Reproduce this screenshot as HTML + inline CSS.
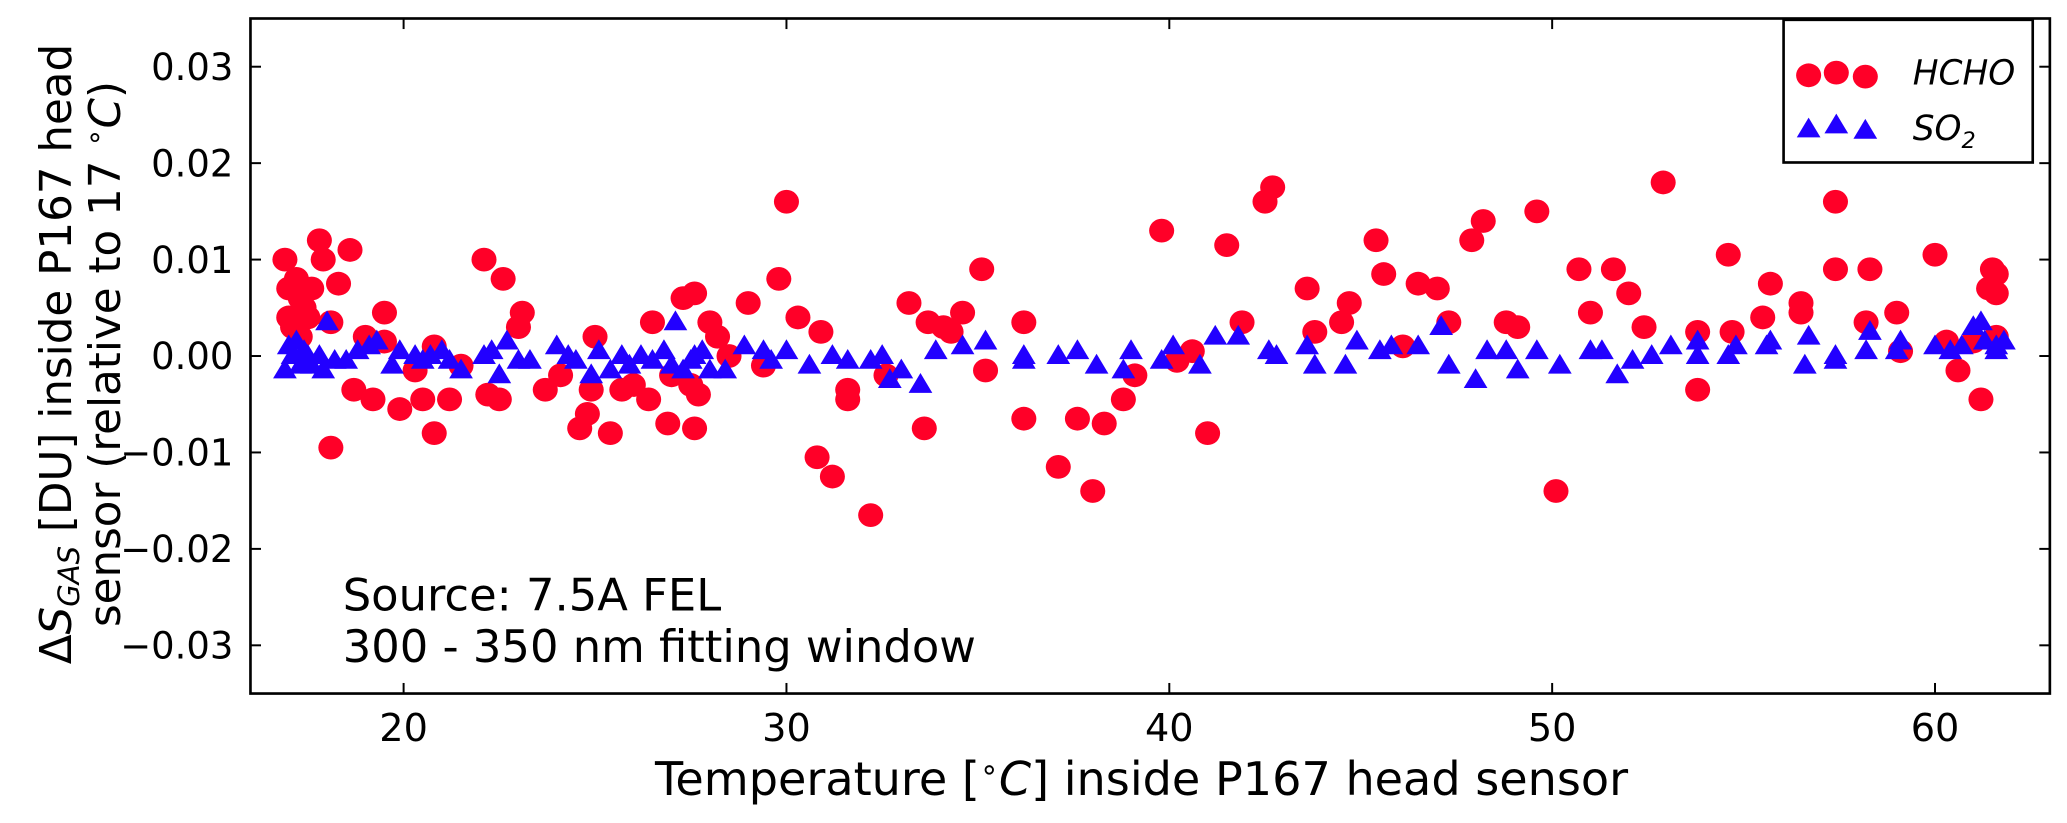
<!DOCTYPE html>
<html><head><meta charset="utf-8"><style>
html,body{margin:0;padding:0;background:#fff;}
svg{display:block;font-family:"DejaVu Sans","Liberation Sans",sans-serif;}
</style></head><body>
<svg id="chart" width="2067" height="823" viewBox="0 0 1568 623" preserveAspectRatio="none" xmlns="http://www.w3.org/2000/svg">
<g id="marks"></g>
<rect x="190" y="14" width="1365" height="511" fill="none" stroke="#000" stroke-width="2"/>
<g id="ticks"></g>
<text x="866" y="602" font-size="35" text-anchor="middle">Temperature [<tspan font-size="23" dy="-12">∘</tspan><tspan dy="12" font-style="italic">C</tspan>] inside P167 head sensor</text>
<text transform="translate(54,268) rotate(-90)" font-size="33" text-anchor="middle">Δ<tspan font-style="italic">S</tspan><tspan font-size="22" font-style="italic" dy="6">GAS</tspan><tspan dy="-6"> [DU] inside P167 head</tspan></text>
<text transform="translate(91,268) rotate(-90)" font-size="33" text-anchor="middle">sensor (relative to 17 <tspan font-size="22" dy="-12">∘</tspan><tspan dy="12" font-style="italic">C</tspan>)</text>
<text x="260" y="462" font-size="34">Source: 7.5A FEL</text>
<text x="260" y="501" font-size="34">300 - 350 nm fitting window</text>
<g>
<rect x="1353" y="15" width="189" height="108" fill="#fff" stroke="#000" stroke-width="2"/>
<ellipse cx="1372" cy="57" rx="9.5" ry="9" fill="#ff0028"/><ellipse cx="1393" cy="55" rx="9.5" ry="9" fill="#ff0028"/><ellipse cx="1415" cy="58" rx="9.5" ry="9" fill="#ff0028"/>
<text x="1451" y="64" font-size="26" font-style="italic">HCHO</text>
<polygon points="1372,89 1381,104 1363,104" fill="#2200ff"/><polygon points="1393,86 1402,101 1384,101" fill="#2200ff"/><polygon points="1415,90 1424,105 1406,105" fill="#2200ff"/>
<text x="1451" y="106" font-size="26" font-style="italic">SO<tspan font-size="17" dy="6">2</tspan></text>
</g>
</svg>
<script>
const hchoX=[16.9,17,17,17.1,17.2,17.3,17.4,17.5,17.6,17.3,17.8,17.9,18.1,18.1,18.3,18.6,18.7,19,19.2,19.5,19.5,19.9,20.3,20.5,20.8,20.8,21.2,21.5,22.1,22.2,22.5,22.6,23,23.1,23.7,24.1,24.6,24.8,24.9,25,25.4,25.7,26,26.4,26.5,26.9,27,27.3,27.6,27.6,27.7,28,28.2,27.5,28.5,29,29.4,29.8,30,30.3,30.8,30.9,31.2,31.6,31.6,32.2,32.6,33.2,33.6,33.7,34.1,34.3,34.6,35.1,35.2,36.2,36.2,37.1,37.6,38,38.3,38.8,39.1,39.8,40.2,40.6,41,41.5,41.9,42.5,42.7,43.6,43.8,44.5,44.7,45.4,45.6,46.1,46.5,47,47.3,47.9,48.2,48.8,49.1,49.6,50.1,50.7,51,51.6,52,52.4,52.9,53.8,53.8,54.6,54.7,55.5,55.7,56.5,56.5,57.4,57.4,58.2,58.3,59,59.1,60,60.3,60.6,61.2,61.4,61.5,61.6,61.6,61.6,61];
const hchoY=[0.010,0.007,0.004,0.003,0.008,0.006,0.005,0.004,0.007,0.002,0.012,0.010,0.0035,-0.0095,0.0075,0.011,-0.0035,0.002,-0.0045,0.0045,0.0015,-0.0055,-0.0015,-0.0045,-0.008,0.001,-0.0045,-0.001,0.010,-0.004,-0.0045,0.008,0.003,0.0045,-0.0035,-0.002,-0.0075,-0.006,-0.0035,0.002,-0.008,-0.0035,-0.003,-0.0045,0.0035,-0.007,-0.002,0.006,0.0065,-0.0075,-0.004,0.0035,0.002,-0.003,0.0,0.0055,-0.001,0.008,0.016,0.004,-0.0105,0.0025,-0.0125,-0.0035,-0.0045,-0.0165,-0.002,0.0055,-0.0075,0.0035,0.003,0.0025,0.0045,0.009,-0.0015,-0.0065,0.0035,-0.0115,-0.0065,-0.014,-0.007,-0.0045,-0.002,0.013,-0.0005,0.0005,-0.008,0.0115,0.0035,0.016,0.0175,0.007,0.0025,0.0035,0.0055,0.012,0.0085,0.001,0.0075,0.007,0.0035,0.012,0.014,0.0035,0.003,0.015,-0.014,0.009,0.0045,0.009,0.0065,0.003,0.018,0.0025,-0.0035,0.0105,0.0025,0.004,0.0075,0.0055,0.0045,0.016,0.009,0.0035,0.009,0.0045,0.0005,0.0105,0.0015,-0.0015,-0.0045,0.007,0.009,0.0085,0.0065,0.002,0.0015];
const so2X=[16.9,17,17.1,17.2,17.3,17.4,17.5,17.6,17.8,17.9,18,18.2,18.5,18.8,19.1,19.3,19.7,19.9,20.3,20.5,20.7,21,21.2,21.5,22.1,22.3,22.5,22.7,23,23.3,24,24.3,24.5,24.9,25.1,25.4,25.7,25.9,26.2,26.5,26.8,27,27.1,27.3,27.5,27.6,27.8,28,28.4,28.9,29.4,29.6,30,30.6,31.2,31.6,32.2,32.5,32.7,33,33.5,33.9,34.6,35.2,36.2,36.2,37.1,37.6,38.1,38.8,39,39.8,40.1,40.8,41.2,41.8,42.6,42.8,43.6,43.8,44.6,44.9,45.5,45.8,46.5,47.3,47.1,48,48.3,48.8,49.1,49.6,50.2,51,51.3,51.7,52.1,52.6,53.1,53.8,53.8,54.6,54.8,55.6,55.7,56.6,56.7,57.4,57.4,58.2,58.3,59,59.1,60,60.4,60.7,61,61.2,61.3,61.6,61.6,61.8];
const so2Y=[-0.0015,0.001,0,0.0015,-0.001,0.0005,0,-0.001,0,-0.0015,0.0035,-0.0005,-0.0005,0.0005,0.001,0.0015,-0.001,0.0005,0,-0.0005,0,0.0005,-0.0005,-0.0015,0,0.0005,-0.002,0.0015,-0.0005,-0.0005,0.001,0,-0.0005,-0.002,0.0005,-0.0015,0,-0.001,0,-0.0005,0.0005,-0.001,0.0035,-0.0015,-0.0005,0,0.0005,-0.0015,-0.0015,0.001,0.0005,-0.0005,0.0005,-0.001,0,-0.0005,-0.0005,0,-0.0025,-0.0015,-0.003,0.0005,0.001,0.0015,-0.0005,0,0,0.0005,-0.001,-0.0015,0.0005,-0.0005,0.001,-0.001,0.002,0.002,0.0005,0,0.001,-0.001,-0.001,0.0015,0.0005,0.001,0.001,-0.001,0.003,-0.0025,0.0005,0.0005,-0.0015,0.0005,-0.001,0.0005,0.0005,-0.002,-0.0005,0,0.001,0,0.0015,0,0.001,0.001,0.0015,-0.001,0.002,-0.0005,0,0.0005,0.0025,0.0005,0.0015,0.001,0.0005,0.001,0.003,0.0035,0.0015,0.001,0.0005,0.0015];
const xTicks=[20,30,40,50,60];
const yTicks=[0.03,0.02,0.01,0.00,-0.01,-0.02,-0.03];
const yTickLabels=["0.03","0.02","0.01","0.00","\u22120.01","\u22120.02","\u22120.03"];
const X0=16,X1=63,Y0=-0.035,Y1=0.035,L=190,R=1555,T=14,B=525;
const sx=v=>L+(v-X0)/(X1-X0)*(R-L);
const sy=v=>B-(v-Y0)/(Y1-Y0)*(B-T);
const NS="http://www.w3.org/2000/svg";
const marks=document.getElementById('marks'),ticks=document.getElementById('ticks');
function mk(tag,attrs,parent){const e=document.createElementNS(NS,tag);for(const k in attrs)e.setAttribute(k,attrs[k]);parent.appendChild(e);return e;}
hchoX.forEach((x,i)=>{
  const c=mk('ellipse',{cx:sx(x),cy:sy(hchoY[i]),rx:9.5,ry:9,fill:'#ff0028'},marks);
  
  
});
so2X.forEach((x,i)=>{
  const cx=sx(x),cy=sy(so2Y[i]);
  const p=mk('polygon',{points:`${cx},${cy-9} ${cx+9},${cy+6} ${cx-9},${cy+6}`,fill:'#2200ff'},marks);
  
  
});
xTicks.forEach(v=>{
  const x=sx(v);
  mk('line',{x1:x,x2:x,y1:B,y2:B-8,stroke:'#000','stroke-width':1.5},ticks);
  mk('line',{x1:x,x2:x,y1:T,y2:T+8,stroke:'#000','stroke-width':1.5},ticks);
  const t=mk('text',{x:x,y:B+36,'font-size':29,'text-anchor':'middle'},ticks);
  t.textContent=String(v);
  
  
});
yTicks.forEach((v,i)=>{
  const y=sy(v);
  mk('line',{x1:L,x2:L+8,y1:y,y2:y,stroke:'#000','stroke-width':1.5},ticks);
  mk('line',{x1:R,x2:R-8,y1:y,y2:y,stroke:'#000','stroke-width':1.5},ticks);
  const t=mk('text',{x:L-13,y:y+10,'font-size':28,'text-anchor':'end'},ticks);
  t.textContent=yTickLabels[i];
  
  
});
</script>
</body></html>
